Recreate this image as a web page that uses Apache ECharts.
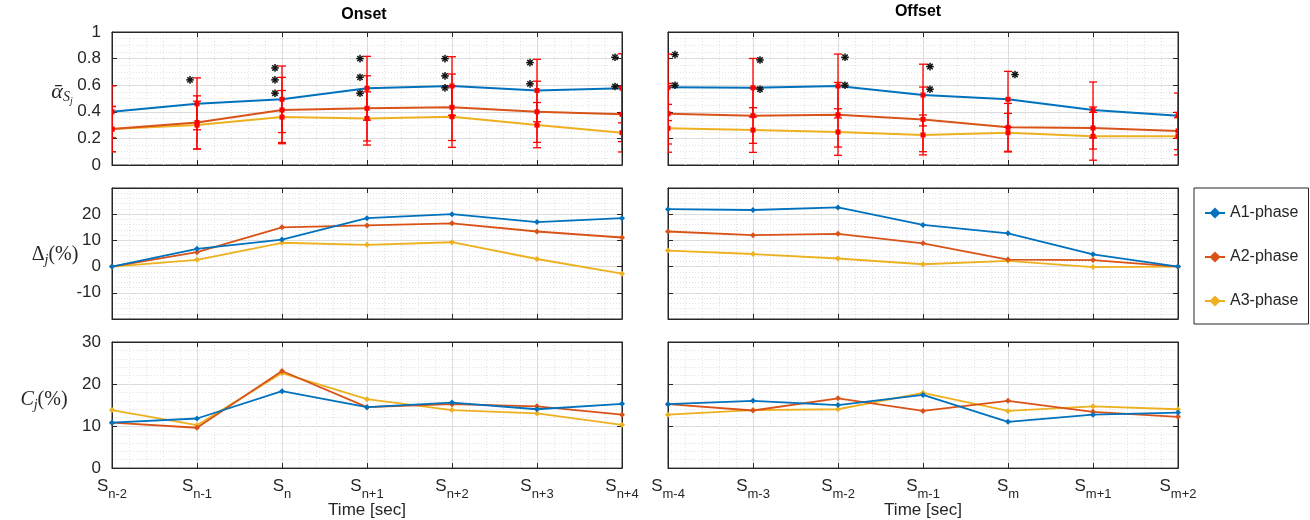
<!DOCTYPE html>
<html>
<head>
<meta charset="utf-8">
<script src="https://cdn.jsdelivr.net/npm/echarts@6/dist/echarts.min.js"></script>
<style>
  html, body { margin: 0; padding: 0; background: #ffffff; }
  #chart { width: 1310px; height: 520px; }
</style>
</head>
<body>
<div id="chart"></div>
<script>
// ---- categories ----
const onsetTicks = ['n-2', 'n-1', 'n', 'n+1', 'n+2', 'n+3', 'n+4'];
const offsetTicks = ['m-4', 'm-3', 'm-2', 'm-1', 'm', 'm+1', 'm+2'];
const phases = ['A1-phase', 'A2-phase', 'A3-phase'];

// ---- mean alpha (top row) and its spread ----
const alphaOnsetA1 = [0.40, 0.46, 0.494, 0.577, 0.594, 0.56, 0.577];
const alphaOnsetA2 = [0.27, 0.32, 0.414, 0.426, 0.434, 0.40, 0.381];
const alphaOnsetA3 = [0.27, 0.30, 0.36, 0.35, 0.363, 0.30, 0.243];
const alphaOnsetErrA1 = [0.195, 0.195, 0.25, 0.24, 0.22, 0.235, 0.26];
const alphaOnsetErrA2 = [0.17, 0.20, 0.245, 0.245, 0.25, 0.23, 0.205];
const alphaOnsetErrA3 = [0.17, 0.18, 0.20, 0.20, 0.23, 0.17, 0.145];

const alphaOffsetA1 = [0.584, 0.581, 0.594, 0.526, 0.494, 0.414, 0.371];
const alphaOffsetA2 = [0.386, 0.371, 0.378, 0.343, 0.283, 0.278, 0.256];
const alphaOffsetA3 = [0.276, 0.263, 0.248, 0.226, 0.243, 0.216, 0.216];
const alphaOffsetErrA1 = [0.25, 0.22, 0.24, 0.232, 0.21, 0.21, 0.17];
const alphaOffsetErrA2 = [0.228, 0.208, 0.243, 0.243, 0.18, 0.158, 0.14];
const alphaOffsetErrA3 = [0.18, 0.168, 0.175, 0.15, 0.145, 0.18, 0.14];

// significance asterisks: [step index, level]
const onsetStars = [[1, 0.64], [2, 0.73], [2, 0.64], [2, 0.54], [3, 0.80], [3, 0.66], [3, 0.54],
                    [4, 0.80], [4, 0.67], [4, 0.58], [5, 0.77], [5, 0.61], [6, 0.81], [6, 0.59]];
const offsetStars = [[0, 0.83], [0, 0.60], [1, 0.79], [1, 0.57], [2, 0.81], [2, 0.60],
                     [3, 0.74], [3, 0.57], [4, 0.68]];

// ---- Delta_j (%) ----
const deltaOnsetA1 = [0, 6.8, 10.3, 18.5, 20.0, 17.0, 18.5];
const deltaOnsetA2 = [0, 5.5, 15.0, 15.7, 16.5, 13.4, 11.1];
const deltaOnsetA3 = [0, 2.6, 9.1, 8.3, 9.3, 2.9, -2.7];
const deltaOffsetA1 = [21.9, 21.6, 22.6, 15.9, 12.7, 4.7, 0];
const deltaOffsetA2 = [13.4, 12.0, 12.5, 8.9, 2.7, 2.5, 0];
const deltaOffsetA3 = [6.1, 4.8, 3.1, 0.9, 2.2, -0.2, 0];

// ---- C_j (%) ----
const cOnsetA1 = [10.8, 11.8, 18.3, 14.5, 15.6, 14.0, 15.3];
const cOnsetA2 = [10.8, 9.6, 23.1, 14.5, 15.2, 14.7, 12.7];
const cOnsetA3 = [13.8, 10.2, 22.6, 16.4, 13.8, 13.0, 10.3];
const cOffsetA1 = [15.2, 16.0, 15.0, 17.4, 11.0, 12.7, 13.2];
const cOffsetA2 = [15.2, 13.7, 16.6, 13.6, 16.0, 13.4, 12.2];
const cOffsetA3 = [12.7, 13.8, 14.0, 17.9, 13.6, 14.7, 14.0];

// ---- styling ----
const SANS = "'Liberation Sans', Arial, Helvetica, sans-serif";
const SERIF = "'Liberation Serif', 'DejaVu Serif', serif";
const INK = '#262626';
const COLORS = ['#0072BD', '#D95319', '#EDB120'];
const GRID_MAJOR = '#dcdcdc';
const GRID_MINOR = '#e3e3e3';

const grids = [
  { left: 112, top: 32, width: 510, height: 133 },
  { left: 668, top: 32, width: 510, height: 133 },
  { left: 112, top: 188, width: 510, height: 131 },
  { left: 668, top: 188, width: 510, height: 131 },
  { left: 112, top: 342, width: 510, height: 131 },
  { left: 668, top: 342, width: 510, height: 131 }
];

const rowScales = [
  { min: 0, max: 1, interval: 0.2, minor: 4, hide: [] },
  { min: -20, max: 30, interval: 10, minor: 5, hide: [-20, 30] },
  { min: 0, max: 30, interval: 10, minor: 5, hide: [] }
];

const xAxes = [];
const yAxes = [];
grids.forEach((g, gi) => {
  const row = Math.floor(gi / 2);
  const col = gi % 2;
  const ticks = col === 0 ? onsetTicks : offsetTicks;
  const sc = rowScales[row];
  const bottomRow = row === 2;
  xAxes.push({
    type: 'value', gridIndex: gi, min: 0, max: 6, interval: 1, position: 'bottom',
    axisLine: { show: true, onZero: false, lineStyle: { color: INK, width: 1 } },
    axisTick: { show: true, inside: true, length: 5, lineStyle: { color: INK } },
    axisLabel: {
      show: bottomRow, margin: 3,
      formatter: v => '{s|S}{b|' + ticks[v] + '}',
      rich: {
        s: { fontFamily: SANS, fontSize: 17, color: INK },
        b: { fontFamily: SANS, fontSize: 13, color: INK, padding: [17, 0, 0, 0] }
      }
    },
    splitLine: { show: true, lineStyle: { color: GRID_MAJOR, width: 1 } },
    minorTick: { show: false, splitNumber: 5 },
    minorSplitLine: { show: true, lineStyle: { color: GRID_MINOR, width: 1, type: [1, 2] } },
    name: bottomRow ? 'Time [sec]' : '',
    nameLocation: 'middle', nameGap: 33,
    nameTextStyle: { fontFamily: SANS, fontSize: 17, color: INK }
  });
  xAxes.push({
    type: 'value', gridIndex: gi, min: 0, max: 6, interval: 1, position: 'top',
    axisLine: { show: true, onZero: false, lineStyle: { color: INK, width: 1 } },
    axisTick: { show: true, inside: true, length: 5, lineStyle: { color: INK } },
    axisLabel: { show: false }, splitLine: { show: false }
  });
  yAxes.push({
    type: 'value', gridIndex: gi, min: sc.min, max: sc.max, interval: sc.interval, position: 'left',
    axisLine: { show: true, onZero: false, lineStyle: { color: INK, width: 1 } },
    axisTick: { show: true, inside: true, length: 5, lineStyle: { color: INK } },
    axisLabel: {
      show: col === 0, margin: 11, fontFamily: SANS, fontSize: 17, color: INK,
      formatter: v => (sc.hide.indexOf(v) >= 0 ? '' : String(Math.round(v * 10) / 10))
    },
    splitLine: { show: true, lineStyle: { color: GRID_MAJOR, width: 1 } },
    minorTick: { show: false, splitNumber: sc.minor },
    minorSplitLine: { show: true, lineStyle: { color: GRID_MINOR, width: 1, type: [1, 2] } }
  });
  yAxes.push({
    type: 'value', gridIndex: gi, min: sc.min, max: sc.max, interval: sc.interval, position: 'right',
    axisLine: { show: true, onZero: false, lineStyle: { color: INK, width: 1 } },
    axisTick: { show: true, inside: true, length: 5, lineStyle: { color: INK } },
    axisLabel: { show: false }, splitLine: { show: false }
  });
});

const pts = arr => arr.map((v, i) => [i, v]);

function markerLine(gi, name, ci, values) {
  return {
    type: 'line', name, xAxisIndex: gi * 2, yAxisIndex: gi * 2,
    data: pts(values), color: COLORS[ci],
    symbol: 'diamond', symbolSize: 6, showSymbol: true,
    lineStyle: { width: 1.8, color: COLORS[ci] },
    itemStyle: { color: COLORS[ci] },
    z: 3 - ci * 0.1, silent: true, animation: false
  };
}

function meanLine(gi, name, ci, values) {
  return {
    type: 'line', name, xAxisIndex: gi * 2, yAxisIndex: gi * 2,
    data: pts(values), color: COLORS[ci], symbol: 'none',
    lineStyle: { width: 2, color: COLORS[ci] },
    z: 3 - ci * 0.1, silent: true, animation: false
  };
}

function errorBars(gi, means, errs) {
  return {
    type: 'custom', xAxisIndex: gi * 2, yAxisIndex: gi * 2, z: 4, silent: true, animation: false,
    clip: true,
    data: means.map((m, i) => [i, m - errs[i], m + errs[i], m]),
    encode: { x: 0, y: [1, 2] },
    renderItem(params, api) {
      const x = api.value(0);
      const lo = api.coord([x, api.value(1)]);
      const hi = api.coord([x, api.value(2)]);
      const mid = api.coord([x, api.value(3)]);
      const w = 4;
      const st = { stroke: '#ff0000', lineWidth: 1.3 };
      return {
        type: 'group',
        children: [
          { type: 'line', shape: { x1: hi[0], y1: hi[1], x2: lo[0], y2: lo[1] }, style: st },
          { type: 'line', shape: { x1: hi[0] - w, y1: hi[1], x2: hi[0] + w, y2: hi[1] }, style: st },
          { type: 'line', shape: { x1: lo[0] - w, y1: lo[1], x2: lo[0] + w, y2: lo[1] }, style: st },
          { type: 'rect', shape: { x: mid[0] - 2.5, y: mid[1] - 2.5, width: 5, height: 5 }, style: { fill: '#ff0000' } }
        ]
      };
    }
  };
}

function stars(gi, list, side) {
  return {
    type: 'custom', xAxisIndex: gi * 2, yAxisIndex: gi * 2, z: 5, silent: true, animation: false,
    data: list,
    renderItem(params, api) {
      const c = api.coord([api.value(0), api.value(1)]);
      const cx = c[0] + side * 7;
      const cy = c[1];
      const r = 3.8;
      const d = r * 0.7071;
      const st = { stroke: '#111111', lineWidth: 1.5 };
      return {
        type: 'group',
        children: [
          { type: 'line', shape: { x1: cx - r, y1: cy, x2: cx + r, y2: cy }, style: st },
          { type: 'line', shape: { x1: cx, y1: cy - r, x2: cx, y2: cy + r }, style: st },
          { type: 'line', shape: { x1: cx - d, y1: cy - d, x2: cx + d, y2: cy + d }, style: st },
          { type: 'line', shape: { x1: cx - d, y1: cy + d, x2: cx + d, y2: cy - d }, style: st }
        ]
      };
    }
  };
}

const series = [
  // middle row: Delta_j
  markerLine(2, phases[0], 0, deltaOnsetA1),
  markerLine(2, phases[1], 1, deltaOnsetA2),
  markerLine(2, phases[2], 2, deltaOnsetA3),
  markerLine(3, phases[0], 0, deltaOffsetA1),
  markerLine(3, phases[1], 1, deltaOffsetA2),
  markerLine(3, phases[2], 2, deltaOffsetA3),
  // bottom row: C_j
  markerLine(4, phases[0], 0, cOnsetA1),
  markerLine(4, phases[1], 1, cOnsetA2),
  markerLine(4, phases[2], 2, cOnsetA3),
  markerLine(5, phases[0], 0, cOffsetA1),
  markerLine(5, phases[1], 1, cOffsetA2),
  markerLine(5, phases[2], 2, cOffsetA3),
  // top row: mean alpha with spread
  meanLine(0, phases[0], 0, alphaOnsetA1),
  meanLine(0, phases[1], 1, alphaOnsetA2),
  meanLine(0, phases[2], 2, alphaOnsetA3),
  meanLine(1, phases[0], 0, alphaOffsetA1),
  meanLine(1, phases[1], 1, alphaOffsetA2),
  meanLine(1, phases[2], 2, alphaOffsetA3),
  errorBars(0, alphaOnsetA1, alphaOnsetErrA1),
  errorBars(0, alphaOnsetA2, alphaOnsetErrA2),
  errorBars(0, alphaOnsetA3, alphaOnsetErrA3),
  errorBars(1, alphaOffsetA1, alphaOffsetErrA1),
  errorBars(1, alphaOffsetA2, alphaOffsetErrA2),
  errorBars(1, alphaOffsetA3, alphaOffsetErrA3),
  stars(0, onsetStars, -1),
  stars(1, offsetStars, 1)
];

const option = {
  backgroundColor: '#ffffff',
  animation: false,
  grid: grids.map(g => Object.assign({ show: true, borderColor: INK, borderWidth: 1, backgroundColor: '#ffffff' }, g)),
  xAxis: xAxes,
  yAxis: yAxes,
  legend: {
    orient: 'vertical', left: 1194, top: 188,
    data: phases, selectedMode: false,
    itemWidth: 20, itemHeight: 14, itemGap: 28,
    padding: [17, 10, 15, 10],
    borderColor: INK, borderWidth: 1, backgroundColor: '#ffffff',
    textStyle: { fontFamily: SANS, fontSize: 16, color: INK }
  },
  graphic: [
    { type: 'text', x: 364, y: 15, style: { text: 'Onset', fontFamily: SANS, fontWeight: 'bold', fontSize: 16, fill: '#000', textAlign: 'center', textVerticalAlign: 'middle' } },
    { type: 'text', x: 918, y: 12, style: { text: 'Offset', fontFamily: SANS, fontWeight: 'bold', fontSize: 16, fill: '#000', textAlign: 'center', textVerticalAlign: 'middle' } },
    { type: 'text', x: 62, y: 92, style: {
        text: '{a|ᾱ}{s|S}{j|j}', textAlign: 'center', textVerticalAlign: 'middle',
        rich: {
          a: { fontFamily: SERIF, fontStyle: 'italic', fontSize: 22, fill: INK },
          s: { fontFamily: SERIF, fontStyle: 'italic', fontSize: 14, fill: INK, padding: [10, 0, 0, 0] },
          j: { fontFamily: SERIF, fontStyle: 'italic', fontSize: 10, fill: INK, padding: [18, 0, 0, 0] }
        } } },
    { type: 'text', x: 55, y: 255, style: {
        text: '{r|Δ}{j|j}{r|(%)}', textAlign: 'center', textVerticalAlign: 'middle',
        rich: {
          r: { fontFamily: SERIF, fontSize: 20, fill: INK },
          j: { fontFamily: SERIF, fontStyle: 'italic', fontSize: 14, fill: INK, padding: [10, 0, 0, 0] }
        } } },
    { type: 'text', x: 44, y: 400, style: {
        text: '{c|C}{j|j}{r|(%)}', textAlign: 'center', textVerticalAlign: 'middle',
        rich: {
          c: { fontFamily: SERIF, fontStyle: 'italic', fontSize: 20, fill: INK },
          r: { fontFamily: SERIF, fontSize: 20, fill: INK },
          j: { fontFamily: SERIF, fontStyle: 'italic', fontSize: 14, fill: INK, padding: [10, 0, 0, 0] }
        } } }
  ],
  series
};

const chart = echarts.init(document.getElementById('chart'), null, { renderer: 'canvas' });
chart.setOption(option);
</script>
</body>
</html>
